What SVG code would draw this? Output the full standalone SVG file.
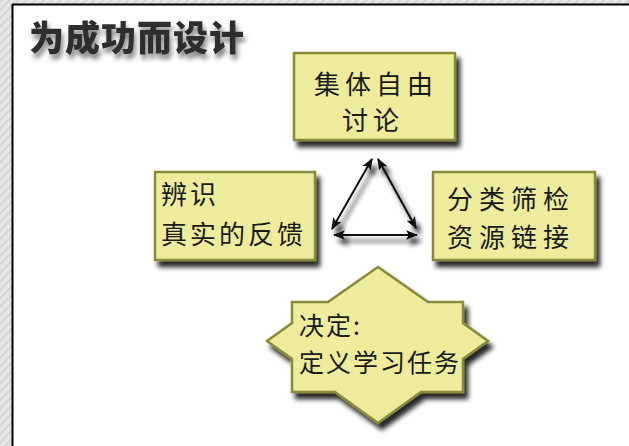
<svg xmlns="http://www.w3.org/2000/svg" width="629" height="446" viewBox="0 0 629 446">
<defs>
<pattern id="stripes" width="6" height="6" patternUnits="userSpaceOnUse" patternTransform="rotate(45)">
<rect width="6" height="6" fill="#e4e4e4"/>
<rect width="2" height="6" fill="#d2d2d2"/>
</pattern>
<filter id="shadow" x="-20%" y="-20%" width="150%" height="150%">
<feGaussianBlur in="SourceAlpha" stdDeviation="2.5"/>
<feOffset dx="4" dy="6" result="b"/>
<feComponentTransfer><feFuncA type="linear" slope="0.85"/></feComponentTransfer>
<feMerge><feMergeNode/><feMergeNode in="SourceGraphic"/></feMerge>
</filter>
<filter id="tshadow" x="-10%" y="-30%" width="130%" height="180%">
<feGaussianBlur in="SourceAlpha" stdDeviation="2.5"/>
<feOffset dx="2" dy="5"/>
<feComponentTransfer><feFuncA type="linear" slope="0.5"/></feComponentTransfer>
<feMerge><feMergeNode/><feMergeNode in="SourceGraphic"/></feMerge>
</filter>
<marker id="ah" viewBox="0 0 10 10" refX="9" refY="5" markerWidth="6" markerHeight="6" orient="auto-start-reverse" markerUnits="strokeWidth">
<path d="M0,1 L10,5 L0,9 L2,5 Z" fill="#111"/>
</marker>
<style>
.box{fill:#ecec9c;stroke:#8a8a3c;stroke-width:2.5}
.lbl{font-family:"Noto Sans CJK SC","Noto Sans CJK JP",sans-serif;fill:#1a1a1a;font-size:26px}
.arr{stroke:#111;stroke-width:2;fill:none;marker-start:url(#ah);marker-end:url(#ah)}
</style>
</defs>
<rect width="629" height="446" fill="#ffffff"/>
<rect x="0" y="0" width="629" height="4" fill="url(#stripes)"/>
<rect x="0" y="0" width="12" height="446" fill="url(#stripes)"/>
<line x1="12" y1="4.5" x2="629" y2="4.5" stroke="#000" stroke-width="2"/>
<line x1="12.5" y1="4" x2="12.5" y2="446" stroke="#000" stroke-width="2"/>

<g id="title" filter="url(#tshadow)">
<text x="29" y="51" style="font-family:'Noto Sans CJK SC',sans-serif;font-weight:900;font-size:35px;fill:#2e2e2e" letter-spacing="1">为成功而设计</text>
</g>

<g id="connectors" filter="url(#shadow)">
<line class="arr" x1="332" y1="229" x2="372" y2="159"/>
<line class="arr" x1="378" y1="159" x2="416" y2="228"/>
<line class="arr" x1="334" y1="235" x2="417" y2="235"/>
</g>

<g id="node-top">
<rect class="box" x="294" y="53" width="161" height="87" filter="url(#shadow)"/>
<text class="lbl" x="314" y="94" letter-spacing="5">集体自由</text>
<text class="lbl" x="342" y="130" letter-spacing="5">讨论</text>
</g>

<g id="node-left">
<rect class="box" x="155" y="172" width="160" height="88" filter="url(#shadow)"/>
<text class="lbl" x="161" y="204" letter-spacing="3">辨识</text>
<text class="lbl" x="161" y="244" letter-spacing="3">真实的反馈</text>
</g>

<g id="node-right">
<rect class="box" x="433" y="172" width="162" height="88" filter="url(#shadow)"/>
<text class="lbl" x="447" y="209" letter-spacing="6">分类筛检</text>
<text class="lbl" x="447" y="247" letter-spacing="6">资源链接</text>
</g>

<g id="node-decide">
<polygon class="box" filter="url(#shadow)" points="378,267 428,302 463,302 463,323 488,341 463,359 463,392 421,392 378,423 335,392 292,392 292,359 267,341 292,323 292,302 328,302"/>
<text class="lbl" x="299" y="335" style="font-size:25px" letter-spacing="2">决定:</text>
<text class="lbl" x="299" y="372" style="font-size:25px" letter-spacing="2">定义学习任务</text>
</g>
</svg>
